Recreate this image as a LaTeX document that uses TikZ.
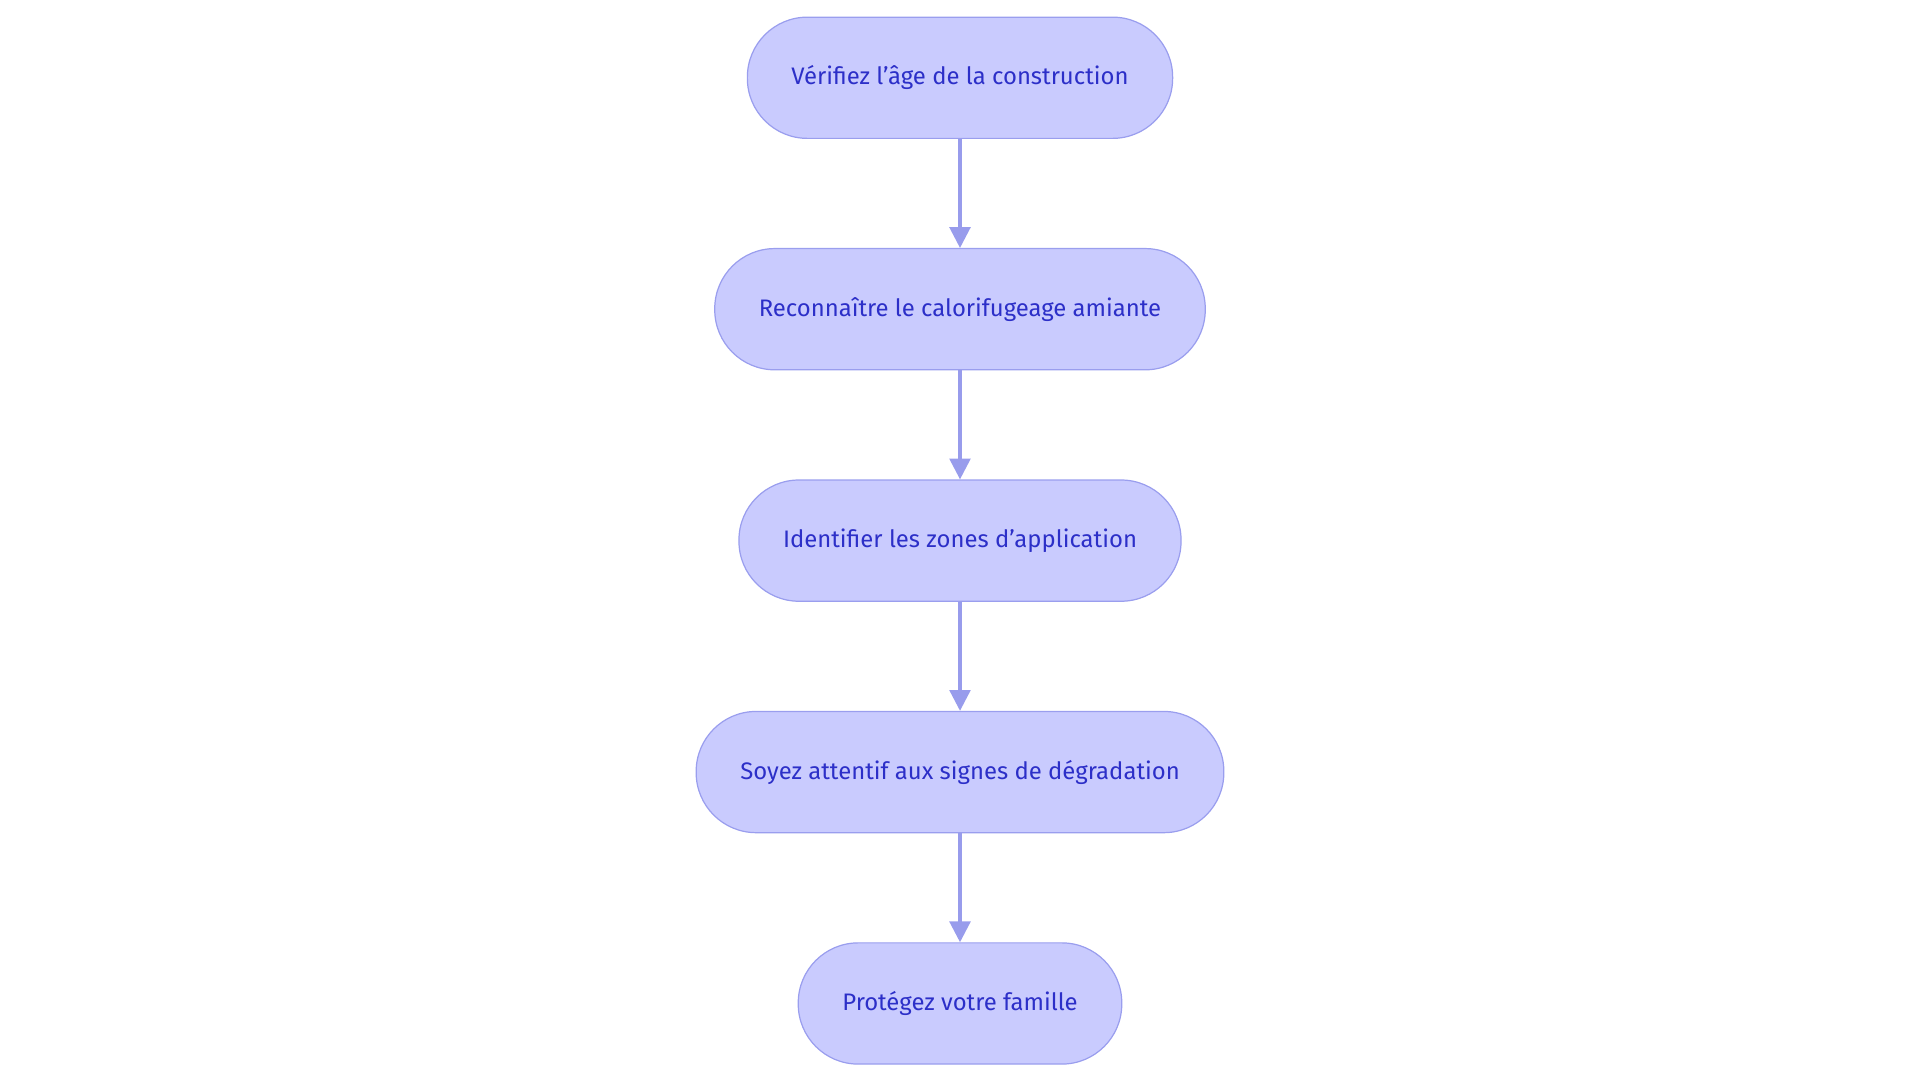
\documentclass[tikz,border=0pt]{standalone}
\usepackage{fontspec}
\setmainfont{Fira Sans}
\usetikzlibrary{arrows.meta,positioning}
\definecolor{stepfill}{HTML}{C9CBFE}
\definecolor{stepdraw}{HTML}{9A9EEE}
\definecolor{steptext}{HTML}{2C2FC8}
\definecolor{steparrow}{HTML}{989CEC}

\begin{document}
\begin{tikzpicture}[
    x=1pt, y=1pt,
    stepbox/.style={
        rectangle,
        rounded corners=49pt,
        draw=stepdraw,
        fill=stepfill,
        line width=1pt,
        text=steptext,
        minimum height=99pt,
        inner xsep=36pt,
        font=\fontsize{19.5}{23}\selectfont
    },
    link/.style={
        draw=steparrow,
        line width=2.5pt,
        -{Triangle[length=17pt,width=17pt]}
    },
    node distance=89pt
]
    \useasboundingbox (0,0) rectangle (1568,-884);
    % Define nodes
    \node[stepbox] (age) at (784,-63.5) {Vérifiez l'âge de la construction};
    \node[stepbox, below=of age] (recognise) {Reconnaître le calorifugeage amiante};
    \node[stepbox, below=of recognise] (zones) {Identifier les zones d'application};
    \node[stepbox, below=of zones] (signs) {Soyez attentif aux signes de dégradation};
    \node[stepbox, below=of signs] (protect) {Protégez votre famille};

    % Arrows
    \draw[link] (age) -- (recognise);
    \draw[link] (recognise) -- (zones);
    \draw[link] (zones) -- (signs);
    \draw[link] (signs) -- (protect);
\end{tikzpicture}
\end{document}
